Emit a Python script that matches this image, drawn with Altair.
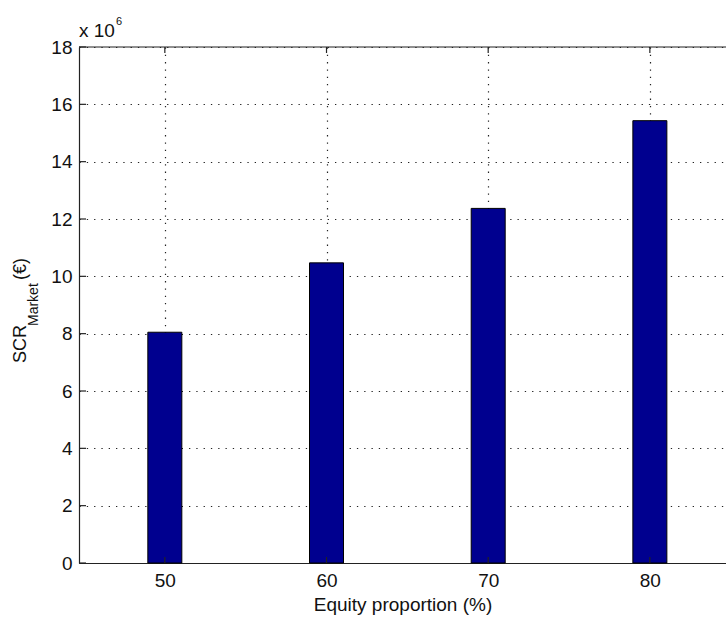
import altair as alt
import pandas as pd

# Data
equity = [50, 60, 70, 80]
scr = [8.05e6, 10.47e6, 12.37e6, 15.43e6]
y_ticks = [0, 2e6, 4e6, 6e6, 8e6, 10e6, 12e6, 14e6, 16e6, 18e6]
x_ticks = [50, 60, 70, 80]

W, H = 647, 516
FONT = "Liberation Sans"

df = pd.DataFrame({"equity": equity, "scr": scr})
xs = alt.Scale(domain=[45, 84.4], nice=False, zero=False)
ys = alt.Scale(domain=[0, 18e6], nice=False)

bars = alt.Chart(df).mark_bar(
    orient="vertical", size=34, color="#00008F", stroke="#000000", strokeWidth=1
).encode(
    x=alt.X("equity:Q", scale=xs,
            axis=alt.Axis(values=x_ticks, title="Equity proportion (%)", grid=True,
                          ticks=False, labelPadding=8, titlePadding=5)),
    y=alt.Y("scr:Q", scale=ys,
            axis=alt.Axis(values=y_ticks, title=None, grid=True, ticks=False,
                          labelPadding=7, labelExpr="datum.value / 1000000")),
)

ytk = pd.DataFrame({"v": y_ticks})
xtk = pd.DataFrame({"v": x_ticks})
tick_style = dict(color="#222222", strokeWidth=1.2)

left_ticks = alt.Chart(ytk).mark_rule(**tick_style).encode(
    y=alt.Y("v:Q", scale=ys), x=alt.value(0), x2=alt.value(7))
bottom_ticks = alt.Chart(xtk).mark_rule(**tick_style).encode(
    x=alt.X("v:Q", scale=xs), y=alt.value(H), y2=alt.value(H - 6))
top_ticks = alt.Chart(xtk).mark_rule(**tick_style).encode(
    x=alt.X("v:Q", scale=xs), y=alt.value(0), y2=alt.value(6))
top_border = alt.Chart(pd.DataFrame({"a": [0]})).mark_rule(**tick_style).encode(
    y=alt.value(0), x=alt.value(0), x2=alt.value(W))

one = pd.DataFrame({"a": [0]})
def txt(text, x, y, size, angle=0):
    return alt.Chart(one).mark_text(
        text=text, font=FONT, fontSize=size, align="left", baseline="alphabetic",
        angle=angle, color="#111111"
    ).encode(x=alt.value(x), y=alt.value(y))

ylab = [
    txt("SCR", -53, 316, 18, 270),
    txt("Market", -41, 279, 14, 270),
    txt("(€)", -53, 233, 18, 270),
]
mult = [txt("x 10", 0, -10, 19), txt("6", 37, -22, 11)]

chart = alt.layer(bars, left_ticks, bottom_ticks, top_ticks, top_border, *ylab, *mult).properties(
    width=W, height=H,
    autosize=alt.AutoSizeParams(type="none"),
    padding={"left": 79, "top": 47, "right": 0, "bottom": 55},
    background="white",
).configure_view(stroke=None).configure_axis(
    domainColor="#222222", domainWidth=1.2,
    labelFont=FONT, labelFontSize=19, labelColor="#111111",
    titleFont=FONT, titleFontSize=19, titleFontWeight="normal", titleColor="#111111",
    gridColor="#222222", gridDash=[1.3, 6], gridWidth=1.2, gridOpacity=1,
)

chart.save("out.html", embed_options={"renderer": "svg", "actions": False})
